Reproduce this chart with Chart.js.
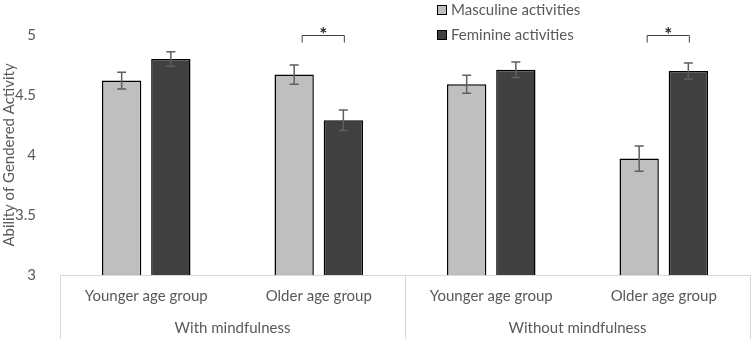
<!DOCTYPE html>
<html>
<head>
<meta charset="utf-8">
<script src="https://cdn.jsdelivr.net/npm/chart.js@4"></script>
<style>
  html, body { margin: 0; padding: 0; background: #fff; }
  #wrap { width: 751px; height: 339px; }
</style>
</head>
<body>
<div id="wrap"><canvas id="chart" width="751" height="339"></canvas></div>
<script>
// data
const ageGroups = ['Younger age group', 'Older age group', 'Younger age group', 'Older age group'];
const conditions = ['With mindfulness', 'Without mindfulness'];
const seriesNames = ['Masculine activities', 'Feminine activities'];
const masculine = [4.62, 4.67, 4.59, 3.97];
const feminine = [4.80, 4.29, 4.71, 4.70];
const mascErr = [0.07, 0.08, 0.075, 0.105];
const femErr = [0.06, 0.085, 0.065, 0.067];
const sigCategories = [1, 3];   // pairs marked with *
const sigLevel = 5.0;

const textGray = '#595959';
const fontName = 'Lato, "Liberation Sans", sans-serif';

// error bars, significance brackets, custom legend, group separators
const extras = {
  id: 'extras',
  afterDatasetsDraw(chart) {
    const ctx = chart.ctx;
    const y = chart.scales.y;
    const area = chart.chartArea;
    const errs = [mascErr, femErr];

    ctx.save();
    // error bars
    ctx.strokeStyle = '#5f5f5f';
    ctx.lineWidth = 1.5;
    chart.data.datasets.forEach(function(ds, i) {
      const meta = chart.getDatasetMeta(i);
      meta.data.forEach(function(bar, k) {
        const top = y.getPixelForValue(ds.data[k] + errs[i][k]);
        const bot = y.getPixelForValue(ds.data[k] - errs[i][k]);
        ctx.beginPath();
        ctx.moveTo(bar.x, top); ctx.lineTo(bar.x, bot);
        ctx.moveTo(bar.x - 4.5, top); ctx.lineTo(bar.x + 4.5, top);
        ctx.moveTo(bar.x - 4.5, bot); ctx.lineTo(bar.x + 4.5, bot);
        ctx.stroke();
      });
    });

    // brackets with *
    ctx.strokeStyle = '#404040';
    ctx.lineWidth = 1;
    ctx.fillStyle = '#262626';
    ctx.font = 'bold 19px ' + fontName;
    ctx.textAlign = 'center';
    ctx.textBaseline = 'middle';
    const m0 = chart.getDatasetMeta(0), m1 = chart.getDatasetMeta(1);
    sigCategories.forEach(function(k) {
      const x1 = m0.data[k].x + 8;
      const x2 = m1.data[k].x + 1;
      const yb = Math.round(y.getPixelForValue(sigLevel)) + 0.5;
      ctx.beginPath();
      ctx.moveTo(x1, yb + 7); ctx.lineTo(x1, yb); ctx.lineTo(x2, yb); ctx.lineTo(x2, yb + 7);
      ctx.stroke();
      ctx.fillText('*', (x1 + x2) / 2, yb - 1);
    });

    // legend
    const fills = ['#bfbfbf', '#404040'];
    ctx.font = '15px ' + fontName;
    ctx.textAlign = 'left';
    seriesNames.forEach(function(name, i) {
      const cy = 10 + i * 25;
      ctx.fillStyle = fills[i];
      ctx.fillRect(437, cy - 5, 10, 10);
      ctx.strokeStyle = '#000';
      ctx.lineWidth = 1;
      ctx.strokeRect(437.5, cy - 4.5, 9, 9);
      ctx.fillStyle = textGray;
      ctx.fillText(name, 451, cy);
    });

    // group separators under the axis
    ctx.strokeStyle = '#d9d9d9';
    ctx.lineWidth = 1;
    const mid = (area.left + area.right) / 2;
    [area.left, mid, area.right].forEach(function(x) {
      const xx = Math.round(x) + 0.5;
      ctx.beginPath();
      ctx.moveTo(xx, area.bottom); ctx.lineTo(xx, chart.height);
      ctx.stroke();
    });
    ctx.restore();
  }
};

new Chart(document.getElementById('chart').getContext('2d'), {
  type: 'bar',
  data: {
    labels: ageGroups,
    datasets: [{
      label: seriesNames[0],
      data: masculine,
      backgroundColor: '#bfbfbf',
      borderColor: '#000',
      borderWidth: 1.5,
      categoryPercentage: 0.57,
      barPercentage: 0.8
    }, {
      label: seriesNames[1],
      data: feminine,
      backgroundColor: '#404040',
      borderColor: '#000',
      borderWidth: 1.5,
      categoryPercentage: 0.57,
      barPercentage: 0.8
    }]
  },
  options: {
    responsive: false,
    animation: false,
    layout: { padding: { top: 35, right: 1, left: 0, bottom: 0 } },
    plugins: { legend: { display: false }, tooltip: { enabled: false } },
    scales: {
      x: {
        grid: { display: false, drawTicks: false },
        border: { color: '#d9d9d9', width: 1 },
        ticks: { color: textGray, font: { family: fontName, size: 15 }, padding: 12, maxRotation: 0 },
        afterFit: function(s) { s.height = 36; }
      },
      x2: {
        type: 'category',
        labels: conditions,
        position: 'bottom',
        grid: { display: false, drawTicks: false },
        border: { display: false },
        ticks: { color: textGray, font: { family: fontName, size: 15 }, padding: 8, maxRotation: 0 },
        afterFit: function(s) { s.height = 28; }
      },
      y: {
        min: 3,
        max: 5,
        ticks: {
          stepSize: 0.5, color: textGray, font: { family: fontName, size: 15 }, padding: 16,
          callback: function(v) { return String(v); }
        },
        grid: { display: false },
        border: { display: false },
        title: { display: true, text: 'Ability of Gendered Activity', color: textGray, font: { family: fontName, size: 15 }, padding: 0 },
        afterFit: function(s) { s.width = 60; }
      }
    }
  },
  plugins: [extras]
});
</script>
</body>
</html>
